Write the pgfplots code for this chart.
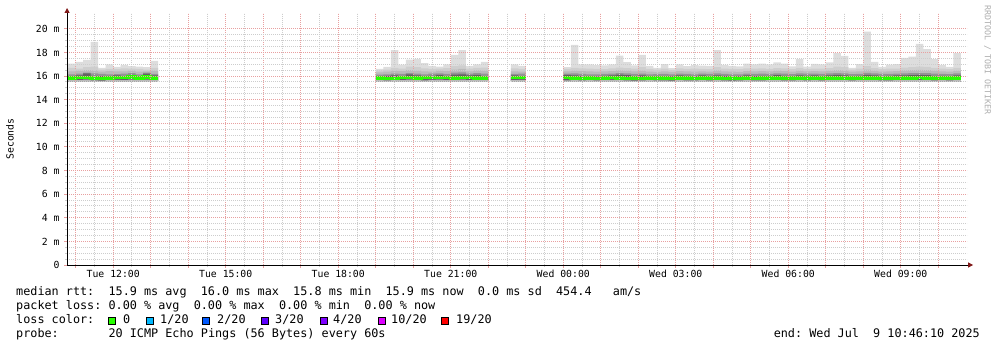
\documentclass[border=0pt]{standalone}
\usepackage{fontspec}
\setmainfont{DejaVu Sans Mono}
\usepackage{pgfplots}
\pgfplotsset{compat=1.18}
\usepackage{pgfplotstable}
\usepgfplotslibrary{fillbetween}
\usetikzlibrary{arrows.meta}

\definecolor{mgridc}{RGB}{232,160,160}
\definecolor{gridc}{RGB}{205,205,205}
\definecolor{arrowred}{RGB}{128,24,24}
\definecolor{smokeA}{RGB}{221,221,221}
\definecolor{smokeB}{RGB}{206,206,206}
\definecolor{smokeC}{RGB}{186,186,186}
\definecolor{smokeD}{RGB}{148,148,148}
\definecolor{smokeE}{RGB}{98,98,98}
\definecolor{loss0}{RGB}{38,255,0}
\definecolor{loss1}{RGB}{0,184,255}
\definecolor{loss2}{RGB}{0,89,255}
\definecolor{loss3}{RGB}{94,0,255}
\definecolor{loss4}{RGB}{126,0,255}
\definecolor{loss10}{RGB}{221,0,255}
\definecolor{loss19}{RGB}{255,0,0}

% time in hours since Tue 00:00, 12-minute consolidation steps
% hi = slowest ping, q1..q3 = smoke layers, dt/db = dark core, lo = fastest ping, med = median rtt (ms)
\pgfplotstableread{
t     hi    q1    q2    q3    dt    db    lo    med
10.78 17.05 16.70 16.40 16.15 15.98 15.68 15.55 15.84
11.0  17.20 16.62 16.45 16.20 16.05 15.66 15.55 15.88
11.2  17.38 16.75 16.50 16.30 16.22 15.70 15.55 15.88
11.4  18.90 16.80 16.48 16.22 16.02 15.64 15.55 15.85
11.6  16.70 16.55 16.38 16.18 16.00 15.62 15.55 15.80
11.8  17.00 16.60 16.42 16.15 15.98 15.66 15.55 15.84
12.0  16.78 16.58 16.40 16.16 16.05 15.68 15.55 15.86
12.2  16.95 16.65 16.40 16.20 16.00 15.65 15.55 15.88
12.4  16.85 16.62 16.45 16.25 16.10 15.70 15.55 15.90
12.6  16.80 16.60 16.38 16.15 15.98 15.66 15.55 15.84
12.8  16.76 16.55 16.40 16.30 16.20 15.70 15.55 15.90
13.0  17.28 16.70 16.45 16.18 16.05 15.66 15.55 15.85
13.2  17.28 16.70 16.45 16.18 16.05 15.66 15.55 15.85
}\segA

\pgfplotstableread{
t     hi    q1    q2    q3    dt    db    lo    med
19.0  16.60 16.45 16.32 16.12 15.98 15.66 15.55 15.82
19.2  16.78 16.55 16.38 16.15 16.02 15.64 15.55 15.80
19.4  18.20 16.70 16.45 16.20 16.05 15.68 15.55 15.80
19.6  16.97 16.62 16.42 16.18 16.00 15.66 15.55 15.88
19.8  17.40 16.80 16.50 16.25 16.15 15.70 15.55 15.88
20.0  17.45 16.75 16.45 16.20 16.05 15.66 15.55 15.85
20.2  17.10 16.65 16.40 16.15 15.98 15.64 15.55 15.86
20.4  16.86 16.60 16.38 16.20 16.02 15.68 15.55 15.88
20.6  16.80 16.62 16.45 16.22 16.10 15.70 15.55 15.86
20.8  17.00 16.68 16.42 16.18 16.00 15.66 15.55 15.88
21.0  17.80 16.85 16.55 16.30 16.12 15.68 15.55 15.85
21.2  18.20 16.90 16.60 16.32 16.15 15.70 15.55 15.86
21.4  16.86 16.62 16.40 16.20 16.05 15.66 15.55 15.88
21.6  17.00 16.70 16.48 16.25 16.10 15.68 15.55 15.85
21.8  17.20 16.72 16.45 16.20 16.00 15.66 15.55 15.84
22.0  17.20 16.72 16.45 16.20 16.00 15.66 15.55 15.84
}\segB

\pgfplotstableread{
t     hi    q1    q2    q3    dt    db    lo    med
22.6  17.00 16.65 16.40 16.18 16.05 15.66 15.55 15.86
22.8  16.86 16.60 16.38 16.20 16.00 15.68 15.55 15.88
23.0  16.86 16.60 16.38 16.20 16.00 15.68 15.55 15.88
}\segC

\pgfplotstableread{
t     hi    q1    q2    q3    dt    db    lo    med
24.0  16.75 16.60 16.40 16.20 16.10 15.64 15.55 15.86
24.2  18.64 16.70 16.45 16.22 16.05 15.66 15.55 15.82
24.4  17.00 16.65 16.42 16.18 16.00 15.64 15.55 15.80
24.6  17.00 16.62 16.40 16.15 15.98 15.66 15.55 15.82
24.8  16.92 16.60 16.38 16.15 15.96 15.64 15.55 15.80
25.0  16.90 16.58 16.40 16.18 16.02 15.66 15.55 15.82
25.2  17.00 16.65 16.42 16.20 16.05 15.68 15.55 15.86
25.4  17.74 16.72 16.48 16.25 16.12 15.66 15.55 15.84
25.6  17.18 16.68 16.45 16.22 16.08 15.64 15.55 15.80
25.8  16.90 16.62 16.40 16.18 16.00 15.62 15.55 15.82
26.0  17.80 16.75 16.45 16.20 16.05 15.64 15.55 15.80
26.2  16.86 16.60 16.38 16.15 15.98 15.66 15.55 15.82
26.4  16.70 16.55 16.36 16.16 15.98 15.64 15.55 15.82
26.6  17.02 16.62 16.40 16.18 16.00 15.64 15.55 15.82
26.8  16.68 16.52 16.35 16.15 15.98 15.62 15.55 15.80
27.0  17.00 16.65 16.42 16.20 16.05 15.66 15.55 15.82
27.2  16.85 16.60 16.40 16.18 16.02 15.64 15.55 15.82
27.4  16.93 16.62 16.38 16.15 15.98 15.64 15.55 15.80
27.6  16.88 16.60 16.40 16.20 16.05 15.66 15.55 15.82
27.8  16.86 16.58 16.38 16.18 16.00 15.64 15.55 15.82
28.0  18.20 16.75 16.48 16.22 16.05 15.66 15.55 15.84
28.2  16.95 16.62 16.40 16.18 16.02 15.64 15.55 15.80
28.4  16.86 16.60 16.38 16.15 15.98 15.62 15.55 15.82
28.6  16.82 16.58 16.36 16.15 15.98 15.64 15.55 15.80
28.8  17.05 16.65 16.42 16.20 16.05 15.66 15.55 15.82
29.0  17.00 16.62 16.40 16.18 16.00 15.64 15.55 15.80
29.2  17.05 16.65 16.42 16.20 16.02 15.64 15.55 15.82
29.4  16.98 16.60 16.40 16.18 16.00 15.66 15.55 15.84
29.6  17.15 16.68 16.45 16.22 16.08 15.66 15.55 15.84
29.8  17.05 16.65 16.42 16.20 16.02 15.64 15.55 15.82
30.0  16.83 16.58 16.38 16.16 16.00 15.64 15.55 15.82
30.2  17.43 16.70 16.45 16.22 16.05 15.66 15.55 15.84
30.4  16.80 16.58 16.40 16.20 16.02 15.64 15.55 15.82
30.6  17.03 16.62 16.42 16.20 16.05 15.66 15.55 15.84
30.8  17.00 16.62 16.40 16.18 16.00 15.64 15.55 15.82
31.0  17.15 16.68 16.45 16.22 16.05 15.66 15.55 15.84
31.2  17.94 16.80 16.50 16.25 16.10 15.68 15.55 15.84
31.4  17.70 16.75 16.48 16.22 16.05 15.66 15.55 15.82
31.6  16.70 16.55 16.38 16.16 16.00 15.64 15.55 15.82
31.8  17.02 16.62 16.40 16.18 16.02 15.66 15.55 15.84
32.0  19.76 16.85 16.55 16.28 16.10 15.68 15.55 15.84
32.2  17.20 16.68 16.45 16.22 16.05 15.66 15.55 15.84
32.4  16.78 16.58 16.38 16.18 16.00 15.64 15.55 15.82
32.6  16.97 16.62 16.40 16.18 16.02 15.64 15.55 15.82
32.8  17.02 16.62 16.42 16.20 16.05 15.66 15.55 15.84
33.0  17.55 16.72 16.48 16.22 16.05 15.66 15.55 15.84
33.2  17.65 16.75 16.50 16.25 16.08 15.66 15.55 15.84
33.4  18.73 16.80 16.52 16.25 16.10 15.68 15.55 15.88
33.6  18.29 16.78 16.50 16.24 16.08 15.66 15.55 15.84
33.8  17.43 16.70 16.45 16.20 16.02 15.64 15.55 15.82
34.0  16.95 16.62 16.40 16.18 16.02 15.66 15.55 15.84
34.2  16.78 16.58 16.38 16.16 16.00 15.64 15.55 15.82
34.4  17.94 16.70 16.45 16.22 16.05 15.66 15.55 15.84
34.6  17.94 16.70 16.45 16.22 16.05 15.66 15.55 15.84
}\segD

% smoke layers: each band is filled from the fastest ping up to its own level,
% the darker bands painting over the lighter ones; the median goes on top
\newcommand\smoke[2]{%
  \addplot[const plot, draw=none, name path=lo#2] table[x=t,y=lo]{#1};
  \addplot[const plot, draw=none, name path=hi#2] table[x=t,y=hi]{#1};
  \addplot[const plot, draw=none, name path=qa#2] table[x=t,y=q1]{#1};
  \addplot[const plot, draw=none, name path=qb#2] table[x=t,y=q2]{#1};
  \addplot[const plot, draw=none, name path=qc#2] table[x=t,y=q3]{#1};
  \addplot[const plot, draw=none, name path=dt#2] table[x=t,y=dt]{#1};
  \addplot[const plot, draw=none, name path=db#2] table[x=t,y=db]{#1};
  \addplot[smokeA, draw=none] fill between[of=hi#2 and lo#2];
  \addplot[smokeB, draw=none] fill between[of=qa#2 and lo#2];
  \addplot[smokeC, draw=none] fill between[of=qb#2 and lo#2];
  \addplot[smokeD, draw=none] fill between[of=qc#2 and lo#2];
  \addplot[smokeE, draw=none] fill between[of=dt#2 and lo#2];
  \addplot[smokeC, draw=none] fill between[of=db#2 and lo#2];
  \addplot[const plot, draw=loss0, line width=3.5bp] table[x=t,y=med]{#1};
}

\newcommand\legfont{\fontsize{11.8bp}{14bp}\selectfont}
\newcommand\axfont{\fontsize{9.8bp}{12bp}\selectfont}

\begin{document}
\frenchspacing
\begin{tikzpicture}[x=1bp,y=1bp]
\begin{axis}[
  scale only axis, width=900bp, height=252bp,
  xmin=10.7694, xmax=34.7694, ymin=0, ymax=21.34,
  axis x line*=bottom, axis y line*=left,
  axis line style={black, line width=1bp},
  x axis line style={shorten >=-6bp, -{Triangle[length=5bp,width=5bp,color=arrowred]}},
  y axis line style={shorten >=-5bp, -{Triangle[length=5bp,width=5bp,color=arrowred]}},
  axis on top,
  xtick={11,...,34},
  xticklabels={{},Tue 12:00,{},{},Tue 15:00,{},{},Tue 18:00,{},{},Tue 21:00,{},{},Wed 00:00,{},{},Wed 03:00,{},{},Wed 06:00,{},{},Wed 09:00,{}},
  minor x tick num=1,
  ytick={0,2,...,20},
  yticklabels={0,2 m,4 m,6 m,8 m,10 m,12 m,14 m,16 m,18 m,20 m},
  minor y tick num=3,
  grid=both,
  major grid style={mgridc, line width=1bp, dash pattern=on 1bp off 1bp},
  minor grid style={gridc, line width=1bp, dash pattern=on 1bp off 1bp},
  tick align=outside,
  major tick length=3bp, minor tick length=2bp,
  tick style={line width=1bp, color=mgridc},
  minor tick style={line width=1bp, color=gridc},
  xticklabel style={font=\axfont, yshift=1bp},
  yticklabel style={font=\axfont, anchor=east, xshift=-1bp},
]
\smoke{\segA}{A}
\smoke{\segB}{B}
\smoke{\segC}{C}
\smoke{\segD}{D}
\coordinate (plotorigin) at (rel axis cs:0,0);
\end{axis}

% canvas in pixel units: the plot area's lower left corner sits at (67.1,82)
\begin{scope}[shift={(plotorigin)}]
\begin{scope}[shift={(-67.1,-82)}]
% axis title and watermark
\node[rotate=90, font=\axfont] at (10,208) {Seconds};
\node[rotate=-90, font=\fontsize{8.3bp}{10bp}\selectfont, text=black!32] at (987.5,287) {RRDTOOL / TOBI OETIKER};

% statistics block
\node[anchor=base west, inner sep=0, font=\legfont] at (16,52) {median rtt:~ 15.9 ms avg~ 16.0 ms max~ 15.8 ms min~ 15.9 ms now~ 0.0 ms sd~ 454.4~~ am/s};
\node[anchor=base west, inner sep=0, font=\legfont] at (16,38) {packet loss: 0.00 \% avg~ 0.00 \% max~ 0.00 \% min~ 0.00 \% now};
\node[anchor=base west, inner sep=0, font=\legfont] at (16,24) {loss color:};
\node[anchor=base west, inner sep=0, font=\legfont] at (16,10) {probe:~~~~~~ 20 ICMP Echo Pings (56 Bytes) every 60s};
\node[anchor=base east, inner sep=0, font=\legfont] at (980,10) {end: Wed Jul~ 9 10:46:10 2025};

% loss colour key
\foreach \c/\xs/\xt/\lab in {loss0/108.7/123/0, loss1/146/160/1\slash 20, loss2/202.7/217/2\slash 20, loss3/261.7/275/3\slash 20, loss4/320/333/4\slash 20, loss10/378/391/10\slash 20, loss19/441.7/456/19\slash 20}{
  \draw[fill=\c, draw=black, line width=1bp] (\xs,22.3) rectangle ++(7,7);
  \node[anchor=base west, inner sep=0, font=\legfont] at (\xt,24) {\lab};
}

% page is exactly the chart canvas
\pgfresetboundingbox
\useasboundingbox (0,0) rectangle (997,347);
\end{scope}
\end{scope}
\end{tikzpicture}
\end{document}
